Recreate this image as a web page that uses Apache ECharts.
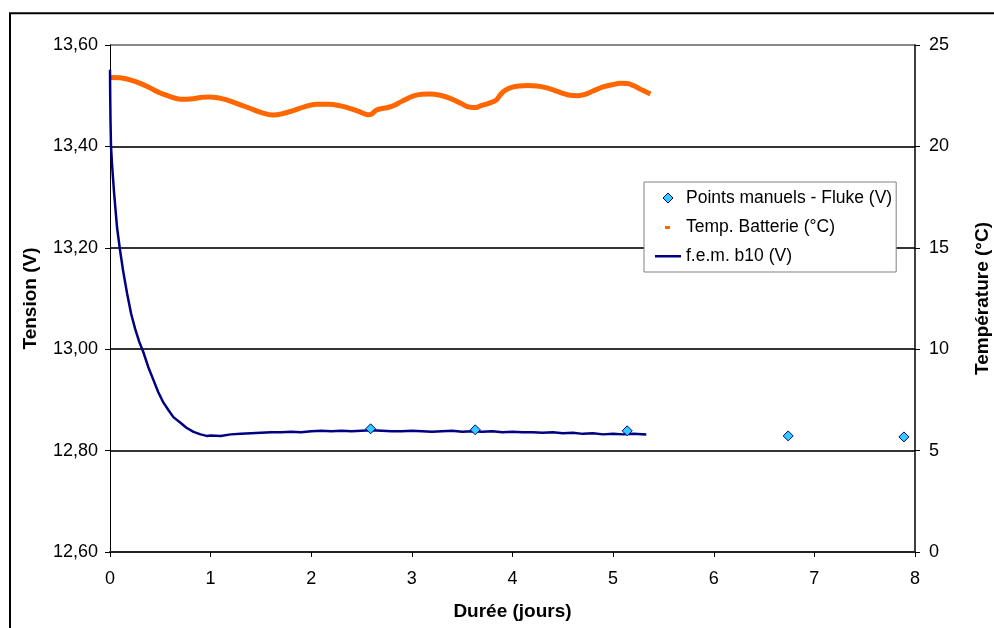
<!DOCTYPE html>
<html>
<head>
<meta charset="utf-8">
<script src="https://cdn.jsdelivr.net/npm/echarts@6/dist/echarts.min.js"></script>
<style>
html,body{margin:0;padding:0;background:#fff;}
#chart{width:994px;height:628px;}
</style>
</head>
<body>
<div id="chart"></div>
<script>
// ---- Data ----
var femTime = [0, 0.002, 0.005, 0.01, 0.02, 0.04, 0.07, 0.10, 0.13, 0.17, 0.21, 0.25, 0.29, 0.33, 0.38, 0.43, 0.48, 0.53, 0.58, 0.63, 0.70, 0.76, 0.83, 0.90, 0.96,
  1.0, 1.1, 1.2, 1.3, 1.4, 1.5, 1.6, 1.7, 1.8, 1.9, 2.0, 2.1, 2.2, 2.3, 2.4, 2.5, 2.6, 2.7, 2.8, 2.9, 3.0, 3.1, 3.2, 3.3, 3.4, 3.5, 3.6, 3.7, 3.8, 3.9,
  4.0, 4.1, 4.2, 4.3, 4.4, 4.5, 4.6, 4.7, 4.8, 4.9, 5.0, 5.1, 5.2, 5.33];
var femValues = [13.551, 13.50, 13.45, 13.40, 13.365, 13.31, 13.24, 13.195, 13.155, 13.11, 13.07, 13.04, 13.015, 12.995, 12.965, 12.94, 12.915, 12.895, 12.880, 12.866, 12.855, 12.845, 12.837, 12.832, 12.829,
  12.830, 12.829, 12.832, 12.833, 12.834, 12.835, 12.836, 12.836, 12.837, 12.836, 12.838, 12.839, 12.838, 12.839, 12.838, 12.839, 12.840, 12.839, 12.838, 12.838, 12.839, 12.838, 12.837, 12.838, 12.839, 12.837, 12.838, 12.837, 12.838, 12.836,
  12.837, 12.836, 12.836, 12.835, 12.836, 12.834, 12.835, 12.833, 12.834, 12.832, 12.833, 12.832, 12.833, 12.832];

var tempTime = [0.00, 0.10, 0.20, 0.30, 0.40, 0.50, 0.60, 0.70, 0.80, 0.90, 0.98, 1.07, 1.16, 1.27, 1.39, 1.50, 1.62, 1.72, 1.82, 1.93, 2.05, 2.17, 2.29, 2.40, 2.50, 2.56, 2.60, 2.65, 2.72, 2.80, 2.90,
  3.01, 3.10, 3.18, 3.28, 3.38, 3.48, 3.58, 3.64, 3.68, 3.75, 3.84, 3.88, 3.93, 4.00, 4.07, 4.15, 4.24, 4.33, 4.41, 4.50, 4.57, 4.65, 4.72, 4.80, 4.90, 5.00, 5.07, 5.14, 5.20, 5.28, 5.37];
var tempValues = [23.40, 23.38, 23.28, 23.11, 22.88, 22.63, 22.45, 22.33, 22.34, 22.41, 22.44, 22.40, 22.29, 22.10, 21.88, 21.68, 21.55, 21.62, 21.76, 21.95, 22.08, 22.08, 22.00, 21.85, 21.67, 21.56, 21.60, 21.80, 21.88, 21.97, 22.22,
  22.48, 22.57, 22.58, 22.52, 22.37, 22.14, 21.93, 21.92, 22.00, 22.10, 22.29, 22.55, 22.77, 22.92, 22.98, 23.00, 22.98, 22.90, 22.78, 22.62, 22.52, 22.50, 22.56, 22.73, 22.93, 23.05, 23.11, 23.10, 23.00, 22.80, 22.58];

var flukeTime = [2.59, 3.63, 5.14, 6.74, 7.89];
var flukeValues = [12.843, 12.841, 12.839, 12.829, 12.827];

var xTicks = [0, 1, 2, 3, 4, 5, 6, 7, 8];
var leftTicks = [12.6, 12.8, 13.0, 13.2, 13.4, 13.6];
var rightTicks = [0, 5, 10, 15, 20, 25];

var seriesNames = ['Points manuels - Fluke (V)', 'Temp. Batterie (°C)', 'f.e.m. b10 (V)'];
var axisTitles = {x: 'Durée (jours)', left: 'Tension (V)', right: 'Température (°C)'};

function zip(a, b) { return a.map(function (v, i) { return [v, b[i]]; }); }

var FONT = 'Liberation Sans, Arial, sans-serif';
var chart = echarts.init(document.getElementById('chart'), null, {renderer: 'canvas'});

var option = {
  backgroundColor: '#ffffff',
  animation: false,
  textStyle: {fontFamily: FONT},
  grid: {left: 110, right: 79, top: 45, bottom: 76, containLabel: false, outerBoundsMode: 'none'},
  graphic: [{
    type: 'polyline',
    shape: {points: [[10, 628], [10, 13.3], [994, 13.3]]},
    style: {stroke: '#000', lineWidth: 2, fill: null},
    silent: true
  }],
  legend: {
    orient: 'vertical',
    left: 644,
    top: 182,
    padding: [6, 4, 6, 11],
    itemWidth: 26,
    itemHeight: 14,
    itemGap: 9,
    backgroundColor: '#ffffff',
    borderColor: '#808080',
    borderWidth: 1,
    borderRadius: 0,
    selectedMode: false,
    textStyle: {fontFamily: FONT, fontSize: 17.5, color: '#000', lineHeight: 20},
    data: [
      {name: seriesNames[0], icon: 'path://M0 0M14 14M2 7L7 2L12 7L7 12Z',
        itemStyle: {color: '#33ccff', borderColor: '#000080', borderWidth: 1}},
      {name: seriesNames[1], icon: 'path://M0 0M26 14M10 6H15V9H10Z',
        itemStyle: {color: '#ff6600', borderWidth: 0}},
      {name: seriesNames[2], icon: 'path://M0 0M26 14M0 6H26V8.5H0Z',
        itemStyle: {color: '#000080', borderWidth: 0}}
    ]
  },
  xAxis: {
    type: 'value',
    min: xTicks[0],
    max: xTicks[xTicks.length - 1],
    interval: 1,
    name: axisTitles.x,
    nameLocation: 'middle',
    nameGap: 50,
    nameTextStyle: {fontFamily: FONT, fontSize: 19, fontWeight: 'bold', color: '#000'},
    axisLine: {show: true, onZero: false, lineStyle: {color: '#222', width: 2}},
    axisTick: {show: true, inside: false, length: 5, lineStyle: {color: '#000', width: 1}},
    axisLabel: {fontFamily: FONT, fontSize: 18, color: '#000', margin: 18},
    splitLine: {show: false}
  },
  yAxis: [{
    type: 'value',
    min: leftTicks[0],
    max: leftTicks[leftTicks.length - 1],
    interval: 0.2,
    position: 'left',
    name: axisTitles.left,
    nameLocation: 'middle',
    nameGap: 70,
    nameTextStyle: {fontFamily: FONT, fontSize: 19, fontWeight: 'bold', color: '#000'},
    axisLine: {show: true, onZero: false, lineStyle: {color: '#000', width: 1}},
    axisTick: {show: true, inside: false, length: 5, lineStyle: {color: '#000', width: 1}},
    axisLabel: {fontFamily: FONT, fontSize: 18, color: '#000', margin: 12,
      formatter: function (v) { return v.toFixed(2).replace('.', ','); }},
    splitLine: {show: true, lineStyle: {color: ['#222', '#333', '#333', '#333', '#333', '#888'], width: 2}}
  }, {
    type: 'value',
    min: rightTicks[0],
    max: rightTicks[rightTicks.length - 1],
    interval: 5,
    position: 'right',
    name: axisTitles.right,
    nameLocation: 'middle',
    nameRotate: 90,
    nameGap: 58,
    nameTextStyle: {fontFamily: FONT, fontSize: 19, fontWeight: 'bold', color: '#000'},
    axisLine: {show: true, onZero: false, lineStyle: {color: '#000', width: 1.5}},
    axisTick: {show: true, inside: false, length: 5, lineStyle: {color: '#000', width: 1}},
    axisLabel: {fontFamily: FONT, fontSize: 18, color: '#000', margin: 14},
    splitLine: {show: false}
  }],
  series: [{
    name: seriesNames[1],
    type: 'line',
    yAxisIndex: 1,
    data: zip(tempTime, tempValues),
    symbol: 'none',
    smooth: 0.4,
    lineStyle: {color: '#ff6600', width: 5},
    itemStyle: {color: '#ff6600'},
    z: 2
  }, {
    name: seriesNames[2],
    type: 'line',
    yAxisIndex: 0,
    data: zip(femTime, femValues),
    symbol: 'none',
    smooth: false,
    lineStyle: {color: '#000080', width: 2.5},
    itemStyle: {color: '#000080'},
    z: 3
  }, {
    name: seriesNames[0],
    type: 'scatter',
    yAxisIndex: 0,
    data: zip(flukeTime, flukeValues),
    symbol: 'diamond',
    symbolSize: 10,
    itemStyle: {color: '#33ccff', borderColor: '#000080', borderWidth: 1, opacity: 1},
    z: 4
  }]
};
chart.setOption(option);
</script>
</body>
</html>
